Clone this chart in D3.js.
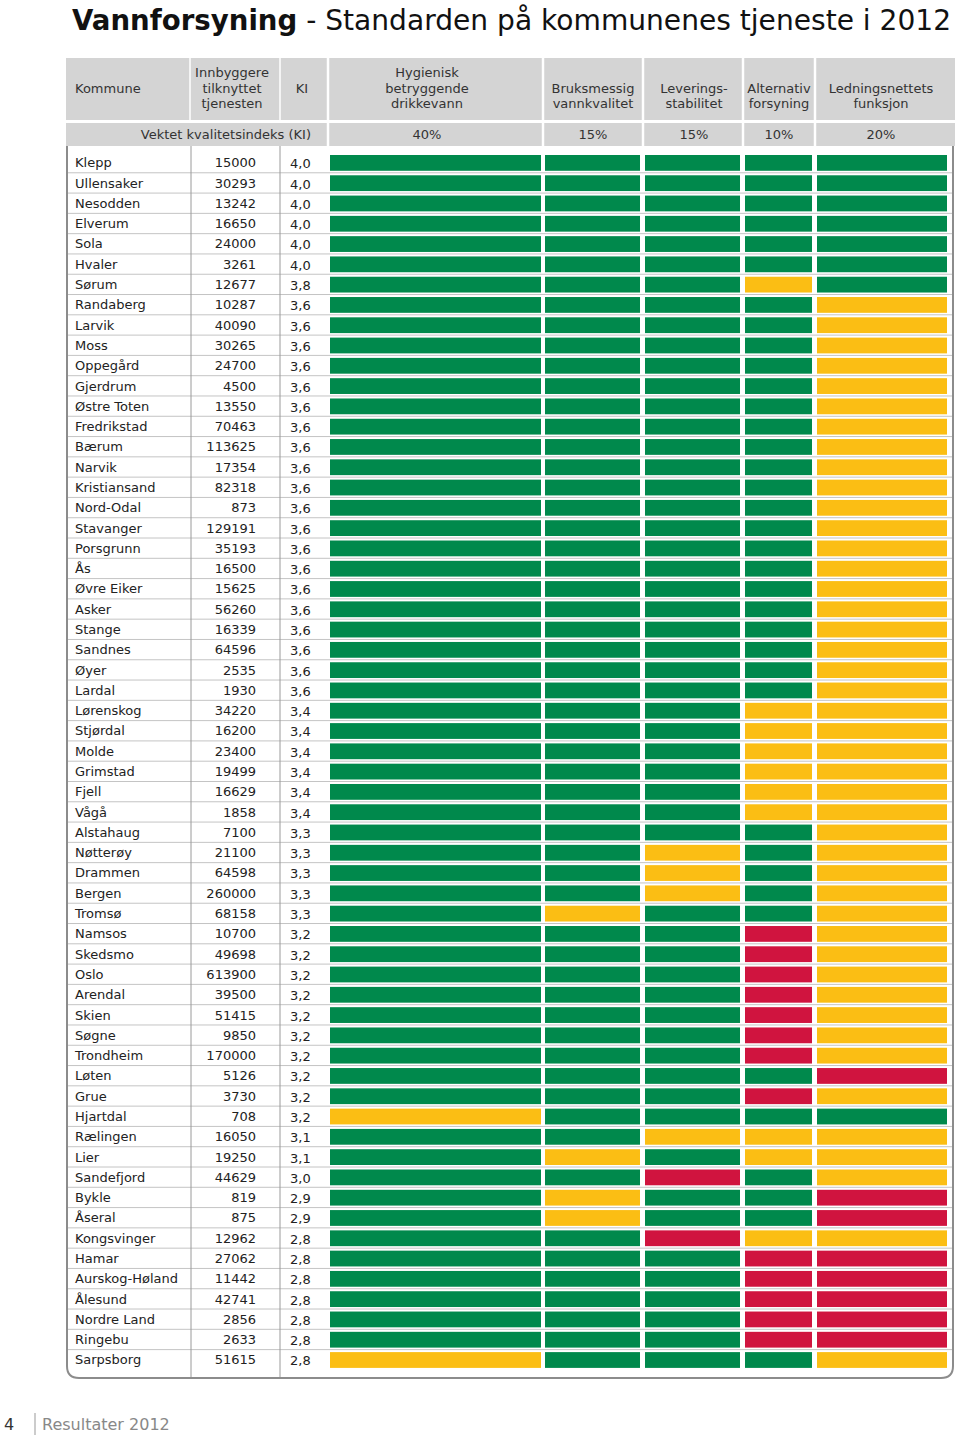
<!DOCTYPE html>
<html><head><meta charset="utf-8">
<script src="https://cdn.jsdelivr.net/npm/d3@7"></script>
<style>
html,body{margin:0;padding:0;background:#fff;}
svg{display:block;font-family:"DejaVu Sans",Verdana,sans-serif;}
</style></head>
<body>
<script>
// ---------- DATA ----------
const kommuner = ["Klepp","Ullensaker","Nesodden","Elverum","Sola","Hvaler","Sørum","Randaberg","Larvik","Moss","Oppegård","Gjerdrum","Østre Toten","Fredrikstad","Bærum","Narvik","Kristiansand","Nord-Odal","Stavanger","Porsgrunn","Ås","Øvre Eiker","Asker","Stange","Sandnes","Øyer","Lardal","Lørenskog","Stjørdal","Molde","Grimstad","Fjell","Vågå","Alstahaug","Nøtterøy","Drammen","Bergen","Tromsø","Namsos","Skedsmo","Oslo","Arendal","Skien","Søgne","Trondheim","Løten","Grue","Hjartdal","Rælingen","Lier","Sandefjord","Bykle","Åseral","Kongsvinger","Hamar","Aurskog-Høland","Ålesund","Nordre Land","Ringebu","Sarpsborg"];
const innbyggere = [15000,30293,13242,16650,24000,3261,12677,10287,40090,30265,24700,4500,13550,70463,113625,17354,82318,873,129191,35193,16500,15625,56260,16339,64596,2535,1930,34220,16200,23400,19499,16629,1858,7100,21100,64598,260000,68158,10700,49698,613900,39500,51415,9850,170000,5126,3730,708,16050,19250,44629,819,875,12962,27062,11442,42741,2856,2633,51615];
const ki = [4.0,4.0,4.0,4.0,4.0,4.0,3.8,3.6,3.6,3.6,3.6,3.6,3.6,3.6,3.6,3.6,3.6,3.6,3.6,3.6,3.6,3.6,3.6,3.6,3.6,3.6,3.6,3.4,3.4,3.4,3.4,3.4,3.4,3.3,3.3,3.3,3.3,3.3,3.2,3.2,3.2,3.2,3.2,3.2,3.2,3.2,3.2,3.2,3.1,3.1,3.0,2.9,2.9,2.8,2.8,2.8,2.8,2.8,2.8,2.8];
// rating per criterion: G = grønn, Y = gul, R = rød (one letter per kommune, same order)
const hygienisk   = "GGGGGGGGGGGGGGGGGGGGGGGGGGGGGGGGGGGGGGGGGGGGGGGYGGGGGGGGGGGY".split("");
const bruksmessig = "GGGGGGGGGGGGGGGGGGGGGGGGGGGGGGGGGGGGGYGGGGGGGGGGGYGYYGGGGGGG".split("");
const levering    = "GGGGGGGGGGGGGGGGGGGGGGGGGGGGGGGGGGYYYGGGGGGGGGGGYGRGGRGGGGGG".split("");
const alternativ  = "GGGGGGYGGGGGGGGGGGGGGGGGGGGYYYYYYGGGGGRRRRRRRGRGYYGGGYRRRRRG".split("");
const ledning     = "GGGGGGGYYYYYYYYYYYYYYYYYYYYYYYYYYYYYYYYYYYYYYRYGYYYRRYRRRRRY".split("");
const kriterier = [
  {navn:["Hygienisk","betryggende","drikkevann"], vekt:"40%", verdier:hygienisk},
  {navn:["Bruksmessig","vannkvalitet"], vekt:"15%", verdier:bruksmessig},
  {navn:["Leverings-","stabilitet"], vekt:"15%", verdier:levering},
  {navn:["Alternativ","forsyning"], vekt:"10%", verdier:alternativ},
  {navn:["Ledningsnettets","funksjon"], vekt:"20%", verdier:ledning}
];
const tittelFet = "Vannforsyning";
const tittelRest = " - Standarden på kommunenes tjeneste i 2012";
const sideNr = "4";
const sideTekst = "Resultater 2012";

// ---------- LAYOUT ----------
const W = 960, H = 1435;
const colorMap = {G:"#00894c", Y:"#fbbe14", R:"#d0143f"};
const left = 66, right = 955;
const colKommune = [66,190], colInnb = [190,280], colKI = [280,328];
const critBounds = [328,543,643,743,815,955];
const critCenters = [427,593,694,779,881];
const barEnd = [541,640,740,812,947];
const rowTop = 152.5, rowH = 20.29;

const svg = d3.select("body").append("svg").attr("width",W).attr("height",H);

// title
const title = svg.append("text").attr("x",72).attr("y",30).attr("fill","#111");
title.append("tspan").attr("font-weight","bold").attr("font-size",27.6).text(tittelFet);
title.append("tspan").attr("font-size",28.1).text(tittelRest);

// header
const hdr1 = [58,120], hdr2 = [123,146];
const hg = svg.append("g");
hg.append("rect").attr("x",left).attr("y",hdr1[0]).attr("width",right-left).attr("height",hdr1[1]-hdr1[0]).attr("fill","#d4d4d4");
hg.append("rect").attr("x",left).attr("y",hdr2[0]).attr("width",right-left).attr("height",hdr2[1]-hdr2[0]).attr("fill","#d4d4d4");
[colInnb[0], colKI[0]].forEach(x=>hg.append("line").attr("x1",x).attr("x2",x).attr("y1",hdr1[0]).attr("y2",hdr1[1]).attr("stroke","#fff").attr("stroke-width",1.5));
critBounds.slice(0,-1).forEach(x=>{
  hg.append("line").attr("x1",x).attr("x2",x).attr("y1",hdr1[0]).attr("y2",hdr2[1]).attr("stroke","#fff").attr("stroke-width",2.5);
});
const lineYs = [72.5, 88, 103.5];
const hText = (x, lines, anchor) => {
  const start = lines.length === 3 ? 0 : 1;
  lines.forEach((l,i)=>{
    hg.append("text").attr("x",x).attr("y",lineYs[start+i]).attr("dy","0.36em")
      .attr("text-anchor",anchor).attr("font-size",13).attr("fill","#333").text(l);
  });
};
hText(75,["Kommune"],"start");
hText(232,["Innbyggere","tilknyttet","tjenesten"],"middle");
hText(302,["KI"],"middle");
kriterier.forEach((k,i)=>{
  const cx = critCenters[i];
  hText(cx,k.navn,"middle");
  hg.append("text").attr("x",cx).attr("y",134.5).attr("dy","0.36em").attr("text-anchor","middle")
    .attr("font-size",13).attr("fill","#333").text(k.vekt);
});
hg.append("text").attr("x",311).attr("y",134.5).attr("dy","0.36em").attr("text-anchor","end")
  .attr("font-size",13).attr("fill","#333").text("Vektet kvalitetsindeks (KI)");

// body
const y = d3.scaleBand().domain(kommuner).range([rowTop, rowTop + rowH*kommuner.length]).padding(0);
const bottom = 1378;
const body = svg.append("g");

// row separators
body.selectAll("line.sep").data(kommuner.slice(0,-1)).join("line")
  .attr("x1",left+1).attr("x2",right-3)
  .attr("y1",d=>y(d)+rowH).attr("y2",d=>y(d)+rowH)
  .attr("stroke","#c4c4c4").attr("stroke-width",1);

// vertical lines
[colInnb[0]+1, colKI[0]].forEach(x=>body.append("line").attr("x1",x).attr("x2",x).attr("y1",hdr2[1]).attr("y2",bottom)
  .attr("stroke","#9a9a9a").attr("stroke-width",1));

// bars
kriterier.forEach((k,ci)=>{
  const x0 = critBounds[ci]+2, x1 = barEnd[ci];
  body.selectAll(null).data(k.verdier).join("rect")
    .attr("x",x0).attr("width",x1-x0)
    .attr("y",(d,i)=>y(kommuner[i])+2.5).attr("height",rowH-4.5)
    .attr("fill",d=>colorMap[d]);
});

// text columns
const fmtKI = d => d3.format(".1f")(d).replace(".",",");
body.selectAll("text.k").data(kommuner).join("text")
  .attr("x",75).attr("y",d=>y(d)+rowH/2).attr("dy","0.36em")
  .attr("font-size",13).attr("fill","#222").text(d=>d);
body.selectAll("text.n").data(innbyggere).join("text")
  .attr("x",256).attr("y",(d,i)=>y(kommuner[i])+rowH/2).attr("dy","0.36em").attr("text-anchor","end")
  .attr("font-size",13).attr("fill","#222").text(d=>d);
body.selectAll("text.ki").data(ki).join("text")
  .attr("x",290).attr("y",(d,i)=>y(kommuner[i])+rowH/2+1).attr("dy","0.36em")
  .attr("font-size",13).attr("fill","#222").text(fmtKI);

// frame
const r = 12;
body.append("path")
  .attr("d",`M${left+1},${hdr2[1]} V${bottom-r} Q${left+1},${bottom} ${left+1+r},${bottom} H${right-2-r} Q${right-2},${bottom} ${right-2},${bottom-r} V${hdr2[1]}`)
  .attr("fill","none").attr("stroke","#8c8c8c").attr("stroke-width",2);

// footer
svg.append("text").attr("x",4).attr("y",1430).attr("font-size",16).attr("fill","#333").text(sideNr);
svg.append("line").attr("x1",35).attr("x2",35).attr("y1",1413).attr("y2",1435).attr("stroke","#999").attr("stroke-width",1);
svg.append("text").attr("x",42).attr("y",1430).attr("font-size",16).attr("fill","#888").text(sideTekst);
</script>
</body></html>
